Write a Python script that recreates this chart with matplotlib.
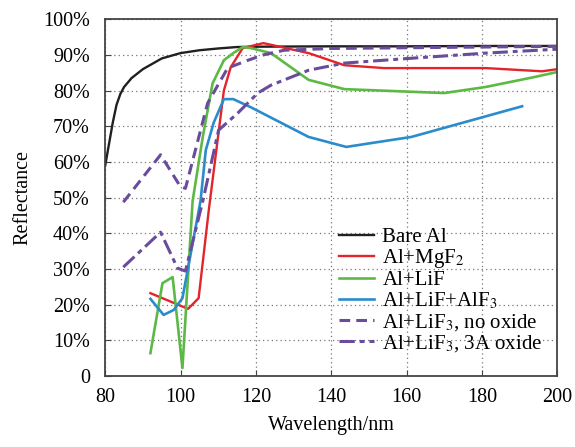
import matplotlib.pyplot as plt
from matplotlib.ticker import FuncFormatter

plt.rcParams['font.family'] = ['Liberation Serif', 'DejaVu Serif']
plt.rcParams['mathtext.fontset'] = 'stix'

# Bare Al
bare_x = [80, 81, 82, 83, 84, 85, 87, 90, 95, 100, 105, 110, 115, 120, 140, 160, 180, 200]
bare_y = [59, 65, 71, 76, 79, 81, 83.5, 86, 89, 90.5, 91.3, 91.8, 92.2, 92.3, 92.4, 92.4, 92.5, 92.5]

# Al+MgF2
mgf2_x = [92, 102, 104.8, 107.5, 111.5, 113.3, 116.5, 122, 134, 143.5, 154, 181, 196, 200]
mgf2_y = [23.2, 18.8, 21.8, 46.5, 80, 86.5, 91.9, 93.3, 90.5, 87.1, 86.3, 86.3, 85.4, 86]

# Al+LiF
lif_x = [92, 95.2, 97.9, 100.5, 103.2, 105.9, 108.5, 111.5, 114, 116.5, 118.7, 124, 134, 143.5, 170, 181, 194, 200]
lif_y = [6.4, 26, 27.7, 2.2, 49, 67, 82, 88.5, 90.5, 92.2, 91.9, 90.5, 83, 80.4, 79.3, 81, 83.8, 85.2]

# Al+LiF+AlF3
alf3_x = [92, 95.5, 98.2, 100.5, 105.3, 106.7, 108.8, 111.5, 114, 118.7, 134, 144, 161.3, 190.7]
alf3_y = [21.6, 17.1, 18.5, 21.8, 49, 63.3, 71, 77.6, 77.6, 75.3, 67, 64.2, 67, 75.6]

# Al+LiF3, no oxide
nox_x = [84.8, 94.7, 100, 101.3, 107.2, 112.5, 117.9, 122, 127.5, 140, 160, 180, 200]
nox_y = [48.7, 62, 53, 52.6, 76.5, 86.3, 88.5, 90, 91.3, 91.8, 92, 92.2, 92.4]

# Al+LiF3, 3A oxide
ox_x = [84.8, 94.7, 99.2, 101.3, 105.9, 110.1, 115.2, 120.5, 124, 134, 143.5, 160.5, 181, 200]
ox_y = [30.5, 40.3, 30.2, 29.4, 49, 68.9, 73.7, 79.3, 81.5, 85.7, 87.7, 89, 90.5, 91.6]

fig = plt.figure(figsize=(5.75, 4.47), dpi=100)
ax = fig.add_axes([0.183, 0.159, 0.786, 0.798])

ax.plot(bare_x, bare_y, color='#231f20', lw=1.7, label='Bare Al')
ax.plot(mgf2_x, mgf2_y, color='#e3242b', lw=1.7, label='Al+MgF$_2$')
ax.plot(lif_x, lif_y, color='#5cb946', lw=1.9, label='Al+LiF')
ax.plot(alf3_x, alf3_y, color='#2b8ccb', lw=1.9, label='Al+LiF+AlF$_3$')
ax.plot(nox_x, nox_y, color='#6a4c9c', lw=2.2, ls=(0, (3.5, 2)), label='Al+LiF$_3$, no oxide')
ax.plot(ox_x, ox_y, color='#6a4c9c', lw=2.2, ls=(0, (5, 1.6, 1.6, 1.6)), label='Al+LiF$_3$, 3A oxide')

ax.set_xlim(80, 200)
ax.set_ylim(0, 100)
ax.set_xticks(range(80, 201, 20))
ax.set_yticks(range(0, 101, 10))
ax.yaxis.set_major_formatter(FuncFormatter(lambda v, p: '0' if v == 0 else f'{int(v)}%'))
ax.tick_params(direction='in', labelsize=14.5, length=4, color='#444444')
ax.tick_params(axis='y', pad=11)
ax.tick_params(axis='x', pad=9)
ax.grid(True, ls=(0, (1, 2.5)), color='#777777', lw=0.9)
for s in ax.spines.values():
    s.set_color('#444444')
    s.set_linewidth(1.3)

ax.set_xlabel('Wavelength/nm', fontsize=14.5, labelpad=6)
ax.set_ylabel('Reflectance', fontsize=14.5, labelpad=8)

leg = ax.legend(loc='lower right', frameon=False, fontsize=15, handlelength=1.7,
                handletextpad=0.4, labelspacing=0.02, borderaxespad=0.3,
                bbox_to_anchor=(1.0, 0.02))

fig.savefig('out.png', dpi=100)
